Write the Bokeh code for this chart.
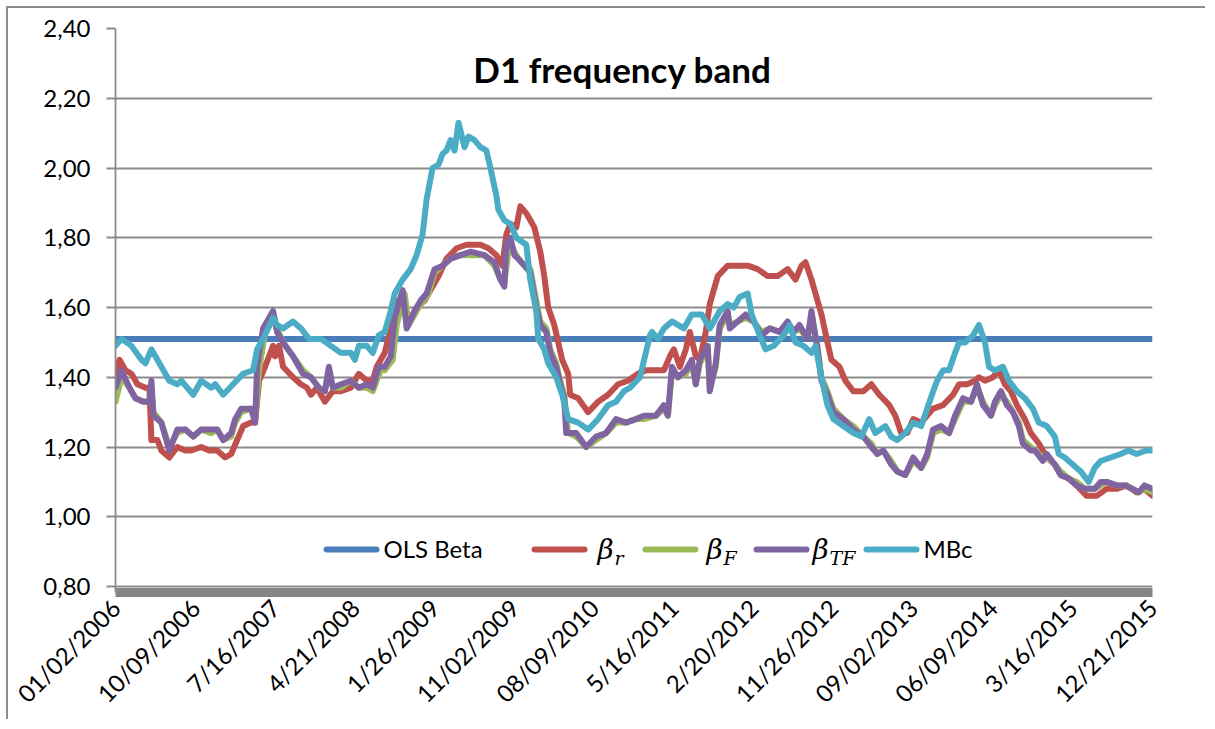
import math
from bokeh.plotting import figure
from bokeh.models import Range1d, FixedTicker, Label, BoxAnnotation, CustomJSTickFormatter
from bokeh.embed import file_html
from bokeh.resources import INLINE

title_text = "D1 frequency band"
date_labels = ["01/02/2006", "10/09/2006", "7/16/2007", "4/21/2008", "1/26/2009",
               "11/02/2009", "08/09/2010", "5/16/2011", "2/20/2012", "11/26/2012",
               "09/02/2013", "06/09/2014", "3/16/2015", "12/21/2015"]
label_step_weeks = 40
y_ticks = [0.8, 1.0, 1.2, 1.4, 1.6, 1.8, 2.0, 2.2, 2.4]
ols_beta = 1.51

series_names = ["OLS Beta", "β_r", "β_F", "β_TF", "MBc"]

# (week index, value)
red_points = [
    (0, 1.41), (2, 1.45), (5, 1.42), (8, 1.41), (11, 1.38), (15, 1.37), (17, 1.37), (18, 1.22),
    (21, 1.22), (23, 1.19), (27, 1.17), (31, 1.20), (35, 1.19), (38, 1.19), (43, 1.20), (47, 1.19),
    (51, 1.19), (55, 1.17), (58, 1.18), (61, 1.22), (64, 1.26), (68, 1.27), (70, 1.27), (72, 1.39),
    (75, 1.43), (79, 1.49), (80, 1.46), (82, 1.49), (84, 1.43), (89, 1.40), (93, 1.38), (96, 1.37),
    (98, 1.35), (101, 1.37), (105, 1.33), (109, 1.36), (113, 1.36), (118, 1.37), (122, 1.41),
    (126, 1.39), (129, 1.39), (131, 1.43), (135, 1.47), (138, 1.54), (141, 1.62), (145, 1.59),
    (148, 1.57), (151, 1.60), (155, 1.62), (159, 1.66), (162, 1.69), (166, 1.74), (171, 1.77),
    (176, 1.78), (183, 1.78), (187, 1.77), (191, 1.75), (194, 1.72), (196, 1.81), (198, 1.84),
    (201, 1.83), (203, 1.89), (206, 1.87), (210, 1.83), (213, 1.76), (215, 1.69), (217, 1.60),
    (220, 1.55), (222, 1.50), (224, 1.45), (227, 1.41), (228, 1.35), (232, 1.34), (237, 1.30),
    (242, 1.33), (247, 1.35), (252, 1.38), (257, 1.39), (262, 1.41), (266, 1.42), (270, 1.42),
    (275, 1.42), (278, 1.46), (280, 1.48), (283, 1.43), (286, 1.48), (288, 1.53), (291, 1.46),
    (293, 1.45), (296, 1.53), (298, 1.61), (302, 1.69), (307, 1.72), (312, 1.72), (317, 1.72),
    (322, 1.71), (327, 1.69), (332, 1.69), (337, 1.71), (341, 1.68), (344, 1.72), (346, 1.73),
    (349, 1.68), (352, 1.62), (354, 1.58), (357, 1.50), (359, 1.45), (363, 1.43), (366, 1.39),
    (370, 1.36), (375, 1.36), (379, 1.38), (383, 1.35), (388, 1.32), (391, 1.29), (394, 1.24),
    (397, 1.24), (400, 1.28), (404, 1.27), (407, 1.29), (410, 1.31), (415, 1.32), (420, 1.35),
    (423, 1.38), (427, 1.38), (431, 1.39), (433, 1.40), (436, 1.39), (440, 1.40), (443, 1.42),
    (446, 1.38), (449, 1.36), (452, 1.32), (456, 1.28), (459, 1.24), (463, 1.21), (467, 1.17),
    (471, 1.15), (474, 1.12), (478, 1.11), (482, 1.09), (487, 1.06), (492, 1.06), (497, 1.08),
    (502, 1.08), (507, 1.09), (512, 1.07), (516, 1.08), (520, 1.06),
]

green_points = [
    (0, 1.33), (3, 1.40), (7, 1.37), (10, 1.34), (14, 1.33), (17, 1.33), (18, 1.37), (19, 1.30),
    (23, 1.27), (27, 1.20), (31, 1.24), (35, 1.25), (39, 1.23), (43, 1.25), (48, 1.24), (51, 1.25),
    (54, 1.22), (58, 1.23), (60, 1.27), (63, 1.30), (68, 1.31), (70, 1.28), (72, 1.42), (75, 1.53),
    (79, 1.58), (81, 1.54), (84, 1.50), (89, 1.46), (94, 1.42), (98, 1.40), (102, 1.37), (105, 1.36),
    (107, 1.41), (109, 1.37), (113, 1.37), (118, 1.39), (122, 1.37), (126, 1.37), (129, 1.36),
    (133, 1.42), (135, 1.42), (139, 1.45), (141, 1.55), (145, 1.64), (147, 1.55), (150, 1.58),
    (153, 1.61), (157, 1.64), (160, 1.70), (164, 1.72), (168, 1.74), (173, 1.75), (178, 1.75),
    (185, 1.75), (190, 1.72), (193, 1.68), (195, 1.67), (197, 1.76), (198, 1.79), (200, 1.76),
    (202, 1.74), (205, 1.72), (208, 1.71), (211, 1.62), (213, 1.56), (216, 1.54), (218, 1.48),
    (221, 1.44), (223, 1.39), (225, 1.35), (227, 1.24), (231, 1.23), (236, 1.20), (241, 1.22),
    (246, 1.24), (251, 1.27), (256, 1.27), (261, 1.28), (265, 1.28), (271, 1.29), (275, 1.31),
    (277, 1.29), (279, 1.41), (282, 1.40), (286, 1.41), (289, 1.44), (291, 1.38), (293, 1.44),
    (297, 1.48), (298, 1.37), (301, 1.43), (303, 1.54), (307, 1.58), (308, 1.55), (312, 1.56),
    (316, 1.57), (320, 1.56), (324, 1.53), (328, 1.54), (333, 1.53), (337, 1.55), (340, 1.53),
    (343, 1.54), (347, 1.51), (349, 1.57), (352, 1.49), (354, 1.40), (357, 1.36), (360, 1.31),
    (365, 1.28), (370, 1.26), (375, 1.23), (379, 1.21), (382, 1.18), (385, 1.19), (389, 1.16),
    (392, 1.13), (396, 1.12), (400, 1.16), (404, 1.14), (407, 1.17), (410, 1.24), (414, 1.25),
    (418, 1.24), (421, 1.28), (425, 1.33), (429, 1.33), (432, 1.37), (435, 1.33), (439, 1.29),
    (441, 1.32), (444, 1.35), (447, 1.33), (450, 1.30), (453, 1.27), (455, 1.22), (459, 1.20),
    (461, 1.19), (465, 1.17), (467, 1.17), (471, 1.15), (474, 1.13), (478, 1.11), (482, 1.10),
    (486, 1.08), (491, 1.08), (494, 1.09), (497, 1.10), (502, 1.09), (506, 1.09), (510, 1.08),
    (513, 1.07), (516, 1.08), (520, 1.07),
]

purple_points = [
    (0, 1.37), (3, 1.42), (7, 1.37), (10, 1.34), (14, 1.33), (17, 1.33), (18, 1.39), (19, 1.29),
    (23, 1.27), (27, 1.19), (31, 1.25), (35, 1.25), (39, 1.23), (43, 1.25), (48, 1.25), (51, 1.25),
    (54, 1.22), (58, 1.24), (60, 1.28), (63, 1.31), (68, 1.31), (70, 1.27), (71, 1.43), (74, 1.54),
    (79, 1.59), (81, 1.53), (84, 1.50), (89, 1.46), (94, 1.41), (98, 1.40), (102, 1.37), (105, 1.36),
    (107, 1.43), (109, 1.37), (113, 1.38), (118, 1.39), (122, 1.37), (126, 1.38), (129, 1.37),
    (132, 1.43), (135, 1.43), (138, 1.46), (140, 1.57), (144, 1.65), (146, 1.54), (150, 1.59),
    (153, 1.62), (156, 1.64), (160, 1.71), (164, 1.72), (168, 1.74), (173, 1.75), (178, 1.76),
    (185, 1.75), (190, 1.73), (193, 1.68), (195, 1.66), (196, 1.78), (198, 1.80), (200, 1.75),
    (202, 1.74), (205, 1.72), (208, 1.70), (211, 1.60), (213, 1.55), (216, 1.53), (218, 1.47),
    (221, 1.43), (223, 1.38), (225, 1.34), (226, 1.24), (231, 1.24), (236, 1.20), (241, 1.23),
    (246, 1.24), (251, 1.28), (256, 1.27), (261, 1.28), (265, 1.29), (271, 1.29), (275, 1.32),
    (277, 1.29), (279, 1.43), (282, 1.40), (286, 1.42), (289, 1.45), (291, 1.38), (293, 1.45),
    (297, 1.49), (298, 1.36), (301, 1.44), (303, 1.55), (307, 1.59), (308, 1.54), (312, 1.56),
    (316, 1.58), (320, 1.56), (324, 1.52), (328, 1.54), (333, 1.53), (337, 1.56), (340, 1.53),
    (343, 1.55), (347, 1.51), (349, 1.59), (352, 1.48), (354, 1.39), (357, 1.35), (360, 1.30),
    (365, 1.28), (370, 1.25), (375, 1.23), (379, 1.20), (382, 1.18), (385, 1.19), (389, 1.15),
    (392, 1.13), (396, 1.12), (400, 1.17), (404, 1.14), (407, 1.18), (410, 1.25), (414, 1.26),
    (418, 1.24), (421, 1.29), (425, 1.34), (429, 1.33), (432, 1.38), (435, 1.32), (439, 1.29),
    (441, 1.33), (444, 1.36), (447, 1.32), (450, 1.30), (453, 1.26), (455, 1.21), (459, 1.19),
    (461, 1.19), (465, 1.16), (467, 1.18), (471, 1.15), (474, 1.12), (478, 1.11), (482, 1.09),
    (486, 1.08), (491, 1.08), (494, 1.10), (497, 1.10), (502, 1.09), (506, 1.09), (510, 1.08),
    (513, 1.07), (516, 1.09), (520, 1.08),
]

mbc_points = [
    (0, 1.49), (3, 1.51), (8, 1.49), (13, 1.45), (15, 1.44), (18, 1.48), (23, 1.43), (27, 1.39),
    (31, 1.38), (33, 1.39), (39, 1.35), (43, 1.39), (48, 1.37), (50, 1.38), (54, 1.35), (59, 1.38),
    (64, 1.41), (69, 1.42), (71, 1.48), (74, 1.51), (79, 1.57), (81, 1.55), (84, 1.54), (89, 1.56),
    (93, 1.54), (97, 1.51), (103, 1.51), (108, 1.49), (113, 1.47), (118, 1.47), (120, 1.45),
    (122, 1.49), (126, 1.49), (129, 1.47), (132, 1.52), (135, 1.53), (138, 1.59), (140, 1.64),
    (144, 1.68), (148, 1.71), (151, 1.75), (154, 1.81), (156, 1.91), (159, 2.00), (162, 2.01),
    (164, 2.04), (166, 2.05), (168, 2.08), (170, 2.05), (172, 2.13), (175, 2.06), (177, 2.09),
    (180, 2.08), (183, 2.06), (186, 2.05), (188, 2.00), (191, 1.92), (192, 1.88), (195, 1.85),
    (198, 1.84), (201, 1.80), (206, 1.78), (208, 1.68), (211, 1.59), (212, 1.51), (215, 1.48),
    (217, 1.44), (221, 1.40), (224, 1.35), (227, 1.28), (232, 1.27), (237, 1.25), (242, 1.28),
    (247, 1.32), (251, 1.33), (255, 1.36), (258, 1.37), (263, 1.40), (268, 1.52), (269, 1.53),
    (272, 1.51), (275, 1.54), (279, 1.56), (285, 1.54), (289, 1.58), (294, 1.58), (298, 1.54),
    (303, 1.59), (307, 1.61), (310, 1.60), (313, 1.63), (317, 1.64), (319, 1.58), (323, 1.52),
    (326, 1.48), (330, 1.49), (335, 1.52), (338, 1.55), (341, 1.50), (345, 1.49), (349, 1.47),
    (351, 1.49), (354, 1.40), (357, 1.32), (360, 1.28), (365, 1.26), (370, 1.24), (374, 1.23),
    (378, 1.28), (381, 1.24), (386, 1.26), (389, 1.23), (392, 1.22), (396, 1.24), (400, 1.27),
    (404, 1.26), (407, 1.31), (410, 1.36), (412, 1.39), (415, 1.42), (418, 1.42), (421, 1.47),
    (423, 1.50), (426, 1.50), (430, 1.52), (433, 1.55), (436, 1.50), (438, 1.43), (441, 1.42),
    (445, 1.43), (448, 1.39), (452, 1.36), (456, 1.34), (460, 1.31), (463, 1.27), (467, 1.26),
    (471, 1.23), (473, 1.18), (476, 1.17), (480, 1.15), (484, 1.13), (488, 1.10), (491, 1.14),
    (494, 1.16), (499, 1.17), (504, 1.18), (508, 1.19), (512, 1.18), (517, 1.19), (520, 1.19),
]

colors = {"OLS Beta": "#4A7EBB", "β_r": "#C0504D", "β_F": "#9BBB59",
          "β_TF": "#8064A2", "MBc": "#4BACC6"}

last_week = (len(date_labels) - 1) * label_step_weeks
x_ticks = [i * label_step_weeks for i in range(len(date_labels))]

# frame geometry (pixels)
frame_h = 566          # 560 px for the value span + 6 px for the floor bar
value_span_px = 560
y_start = y_ticks[0] - (y_ticks[-1] - y_ticks[0]) * (frame_h - value_span_px) / value_span_px

p = figure(width=1199, height=713, x_range=Range1d(0, last_week),
           y_range=Range1d(y_start, y_ticks[-1]),
           output_backend="svg", toolbar_location=None,
           min_border_left=107, min_border_right=55, min_border_top=20,
           min_border_bottom=713 - 20 - frame_h)
p.styles = {"margin-left": "6px", "margin-top": "6px",
            "border-top": "2px solid #8c8c8c", "border-left": "2px solid #8c8c8c"}
p.outline_line_color = None
p.background_fill_color = "white"
p.border_fill_color = "white"

grid_col = "#8c8c8c"
p.xgrid.visible = False
p.ygrid.ticker = FixedTicker(ticks=y_ticks)
p.ygrid.grid_line_color = grid_col
p.ygrid.grid_line_width = 1.8

p.yaxis.ticker = FixedTicker(ticks=y_ticks)
p.yaxis.formatter = CustomJSTickFormatter(code="return tick.toFixed(2).replace('.', ',');")
p.yaxis.axis_line_color = grid_col
p.yaxis.axis_line_width = 1.8
p.yaxis.major_tick_line_color = grid_col
p.yaxis.major_tick_line_width = 1.8
p.yaxis.major_tick_out = 9
p.yaxis.major_tick_in = 0
p.yaxis.minor_tick_line_color = None
p.yaxis.major_label_standoff = 16
p.yaxis.major_label_text_font = "Lato"
p.yaxis.major_label_text_font_size = "24px"
p.yaxis.major_label_text_color = "black"

p.xaxis.ticker = FixedTicker(ticks=x_ticks)
p.xaxis.major_label_overrides = {t: lab for t, lab in zip(x_ticks, date_labels)}
p.xaxis.major_label_orientation = math.pi / 4
p.xaxis.axis_line_color = "#858585"
p.xaxis.axis_line_width = 9
p.xaxis.major_tick_line_color = None
p.xaxis.minor_tick_line_color = None
p.xaxis.major_label_standoff = 5
p.xaxis.major_label_text_font = "Lato"
p.xaxis.major_label_text_font_size = "24px"
p.xaxis.major_label_text_color = "black"

lw = 6
p.line([0, last_week], [ols_beta, ols_beta], line_color=colors["OLS Beta"], line_width=lw)
for name, pts in [("β_r", red_points), ("β_F", green_points), ("β_TF", purple_points), ("MBc", mbc_points)]:
    xs = [w for w, v in pts]
    ys = [v for w, v in pts]
    p.line(xs, ys, line_color=colors[name], line_width=lw, line_join="round", line_cap="round")

p.add_layout(Label(x=507, y=524, x_units="screen", y_units="screen", text=title_text,
                   text_align="center", text_baseline="middle", text_font="Lato",
                   text_font_style="bold", text_font_size="35px", text_color="black"))

# legend (drawn manually to allow subscripted greek labels)
legend_y = 43
legend_items = [
    ("OLS Beta", 208, None),
    ("β_r", 416, "r"),
    ("β_F", 527, "F"),
    ("β_TF", 638, "TF"),
    ("MBc", 748, None),
]
for name, x0, sub in legend_items:
    p.add_layout(BoxAnnotation(left=x0, right=x0 + 56, bottom=legend_y - 3, top=legend_y + 3,
                               left_units="screen", right_units="screen",
                               bottom_units="screen", top_units="screen",
                               fill_color=colors[name], fill_alpha=1, line_color=None,
                               border_radius=3))
    if sub is None:
        p.add_layout(Label(x=x0 + 60, y=legend_y + 1, x_units="screen", y_units="screen", text=name,
                           text_align="left", text_baseline="middle", text_font="Lato",
                           text_font_size="24px", text_color="black"))
    else:
        gap = 10 if sub == "r" else (8 if sub == "F" else 3)
        p.add_layout(Label(x=x0 + 56 + gap, y=legend_y, x_units="screen", y_units="screen",
                           text="β", text_align="left", text_baseline="middle",
                           text_font="DejaVu Serif", text_font_style="italic",
                           text_font_size="28px", text_color="black"))
        p.add_layout(Label(x=x0 + 56 + gap + 17, y=legend_y - 8, x_units="screen", y_units="screen",
                           text=sub, text_align="left", text_baseline="middle",
                           text_font="DejaVu Serif", text_font_style="italic",
                           text_font_size="19px", text_color="black"))

open("out.html", "w").write(file_html(p, INLINE))
